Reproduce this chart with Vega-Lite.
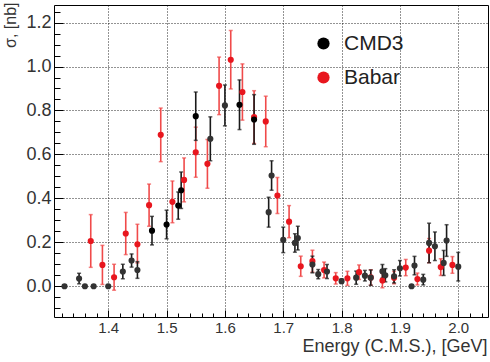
{
  "$schema": "https://vega.github.io/schema/vega-lite/v6.json",
  "width": 434,
  "height": 312,
  "autosize": "none",
  "padding": {"left": 54, "top": 5, "right": 2, "bottom": 45},
  "config": {
    "view": {"stroke": "#000", "strokeWidth": 1},
    "font": "Liberation Sans"
  },
  "data": {"values": [
    {"series": "Babar", "energy": 1.37, "sigma": 0.206, "lo": 0.086, "hi": 0.326},
    {"series": "Babar", "energy": 1.39, "sigma": 0.097, "lo": 0.008, "hi": 0.186},
    {"series": "Babar", "energy": 1.41, "sigma": 0.041, "lo": -0.018, "hi": 0.100},
    {"series": "Babar", "energy": 1.43, "sigma": 0.24, "lo": 0.144, "hi": 0.336},
    {"series": "Babar", "energy": 1.45, "sigma": 0.191, "lo": 0.106, "hi": 0.282},
    {"series": "Babar", "energy": 1.47, "sigma": 0.369, "lo": 0.273, "hi": 0.465},
    {"series": "Babar", "energy": 1.49, "sigma": 0.689, "lo": 0.567, "hi": 0.811},
    {"series": "Babar", "energy": 1.51, "sigma": 0.384, "lo": 0.289, "hi": 0.479},
    {"series": "Babar", "energy": 1.53, "sigma": 0.484, "lo": 0.384, "hi": 0.584},
    {"series": "Babar", "energy": 1.55, "sigma": 0.61, "lo": 0.496, "hi": 0.724},
    {"series": "Babar", "energy": 1.57, "sigma": 0.557, "lo": 0.446, "hi": 0.668},
    {"series": "Babar", "energy": 1.59, "sigma": 0.912, "lo": 0.781, "hi": 1.043},
    {"series": "Babar", "energy": 1.61, "sigma": 1.031, "lo": 0.898, "hi": 1.164},
    {"series": "Babar", "energy": 1.63, "sigma": 0.884, "lo": 0.756, "hi": 1.012},
    {"series": "Babar", "energy": 1.65, "sigma": 0.77, "lo": 0.65, "hi": 0.89},
    {"series": "Babar", "energy": 1.67, "sigma": 0.75, "lo": 0.635, "hi": 0.865},
    {"series": "Babar", "energy": 1.69, "sigma": 0.413, "lo": 0.331, "hi": 0.495},
    {"series": "Babar", "energy": 1.71, "sigma": 0.294, "lo": 0.221, "hi": 0.367},
    {"series": "Babar", "energy": 1.73, "sigma": 0.091, "lo": 0.045, "hi": 0.137},
    {"series": "Babar", "energy": 1.75, "sigma": 0.114, "lo": 0.064, "hi": 0.164},
    {"series": "Babar", "energy": 1.77, "sigma": 0.074, "lo": 0.038, "hi": 0.110},
    {"series": "Babar", "energy": 1.79, "sigma": 0.036, "lo": 0.010, "hi": 0.062},
    {"series": "Babar", "energy": 1.81, "sigma": 0.036, "lo": 0.004, "hi": 0.068},
    {"series": "Babar", "energy": 1.83, "sigma": 0.064, "lo": 0.031, "hi": 0.097},
    {"series": "Babar", "energy": 1.85, "sigma": 0.04, "lo": 0.005, "hi": 0.075},
    {"series": "Babar", "energy": 1.87, "sigma": 0.026, "lo": -0.007, "hi": 0.059},
    {"series": "Babar", "energy": 1.89, "sigma": 0.039, "lo": 0.011, "hi": 0.067},
    {"series": "Babar", "energy": 1.91, "sigma": 0.085, "lo": 0.048, "hi": 0.122},
    {"series": "Babar", "energy": 1.93, "sigma": 0.033, "lo": 0.006, "hi": 0.060},
    {"series": "Babar", "energy": 1.95, "sigma": 0.162, "lo": 0.107, "hi": 0.217},
    {"series": "Babar", "energy": 1.97, "sigma": 0.087, "lo": 0.049, "hi": 0.125},
    {"series": "Babar", "energy": 1.99, "sigma": 0.097, "lo": 0.059, "hi": 0.135},
    {"series": "CMD3 b", "energy": 1.325, "sigma": 0, "lo": 0, "hi": 0},
    {"series": "CMD3 b", "energy": 1.35, "sigma": 0.035, "lo": 0.011, "hi": 0.059},
    {"series": "CMD3 b", "energy": 1.36, "sigma": 0, "lo": 0, "hi": 0},
    {"series": "CMD3 b", "energy": 1.375, "sigma": 0, "lo": 0, "hi": 0},
    {"series": "CMD3 b", "energy": 1.40, "sigma": 0, "lo": 0, "hi": 0},
    {"series": "CMD3 b", "energy": 1.425, "sigma": 0.067, "lo": 0.034, "hi": 0.100},
    {"series": "CMD3 b", "energy": 1.44, "sigma": 0.117, "lo": 0.087, "hi": 0.147},
    {"series": "CMD3 b", "energy": 1.45, "sigma": 0.074, "lo": 0.036, "hi": 0.112},
    {"series": "CMD3", "energy": 1.475, "sigma": 0.253, "lo": 0.188, "hi": 0.318},
    {"series": "CMD3", "energy": 1.50, "sigma": 0.281, "lo": 0.216, "hi": 0.346},
    {"series": "CMD3", "energy": 1.52, "sigma": 0.367, "lo": 0.305, "hi": 0.429},
    {"series": "CMD3", "energy": 1.525, "sigma": 0.437, "lo": 0.354, "hi": 0.520},
    {"series": "CMD3", "energy": 1.55, "sigma": 0.774, "lo": 0.664, "hi": 0.884},
    {"series": "CMD3 b", "energy": 1.575, "sigma": 0.671, "lo": 0.571, "hi": 0.771},
    {"series": "CMD3 b", "energy": 1.60, "sigma": 0.823, "lo": 0.730, "hi": 0.916},
    {"series": "CMD3", "energy": 1.625, "sigma": 0.826, "lo": 0.713, "hi": 0.939},
    {"series": "CMD3", "energy": 1.65, "sigma": 0.759, "lo": 0.646, "hi": 0.872},
    {"series": "CMD3 b", "energy": 1.675, "sigma": 0.337, "lo": 0.269, "hi": 0.405},
    {"series": "CMD3 b", "energy": 1.68, "sigma": 0.504, "lo": 0.437, "hi": 0.571},
    {"series": "CMD3 b", "energy": 1.70, "sigma": 0.211, "lo": 0.153, "hi": 0.269},
    {"series": "CMD3 b", "energy": 1.72, "sigma": 0.197, "lo": 0.155, "hi": 0.239},
    {"series": "CMD3 b", "energy": 1.725, "sigma": 0.219, "lo": 0.165, "hi": 0.273},
    {"series": "CMD3 b", "energy": 1.75, "sigma": 0.099, "lo": 0.061, "hi": 0.137},
    {"series": "CMD3 b", "energy": 1.76, "sigma": 0.055, "lo": 0.034, "hi": 0.076},
    {"series": "CMD3 b", "energy": 1.775, "sigma": 0.067, "lo": 0.035, "hi": 0.099},
    {"series": "CMD3 b", "energy": 1.80, "sigma": 0.023, "lo": 0.013, "hi": 0.033},
    {"series": "CMD3 b", "energy": 1.825, "sigma": 0.039, "lo": 0.009, "hi": 0.069},
    {"series": "CMD3 b", "energy": 1.84, "sigma": 0.048, "lo": 0.024, "hi": 0.072},
    {"series": "CMD3 b", "energy": 1.85, "sigma": 0.039, "lo": 0.004, "hi": 0.074},
    {"series": "CMD3 b", "energy": 1.87, "sigma": 0.068, "lo": 0.037, "hi": 0.099},
    {"series": "CMD3 b", "energy": 1.875, "sigma": 0.05, "lo": 0.02, "hi": 0.08},
    {"series": "CMD3 b", "energy": 1.89, "sigma": 0.045, "lo": 0.015, "hi": 0.075},
    {"series": "CMD3 b", "energy": 1.90, "sigma": 0.082, "lo": 0.047, "hi": 0.117},
    {"series": "CMD3 b", "energy": 1.92, "sigma": 0, "lo": 0, "hi": 0},
    {"series": "CMD3 b", "energy": 1.925, "sigma": 0.094, "lo": 0.052, "hi": 0.136},
    {"series": "CMD3 b", "energy": 1.94, "sigma": 0.030, "lo": 0.006, "hi": 0.054},
    {"series": "CMD3 b", "energy": 1.95, "sigma": 0.197, "lo": 0.107, "hi": 0.287},
    {"series": "CMD3 b", "energy": 1.96, "sigma": 0.182, "lo": 0.117, "hi": 0.247},
    {"series": "CMD3 b", "energy": 1.975, "sigma": 0.106, "lo": 0.049, "hi": 0.163},
    {"series": "CMD3 b", "energy": 1.98, "sigma": 0.208, "lo": 0.136, "hi": 0.280},
    {"series": "CMD3 b", "energy": 2.00, "sigma": 0.089, "lo": 0.024, "hi": 0.154}
  ]},
  "layer": [
    {
      "mark": {"type": "point", "opacity": 0},
      "encoding": {
        "x": {"field": "energy", "type": "quantitative",
          "scale": {"domain": [1.307, 2.051], "nice": false, "zero": false},
          "axis": {"orient": "bottom", "values": [1.4, 1.5, 1.6, 1.7, 1.8, 1.9, 2.0], "format": ".1f",
            "grid": true, "gridColor": "#000", "gridDash": [1, 2], "gridWidth": 1, "gridOpacity": 0.85,
            "domain": false, "ticks": true, "tickSize": -7, "tickColor": "#000", "tickWidth": 1,
            "labelFontSize": 15, "labelColor": "#333", "labelPadding": 10, "labelFlush": false,
            "title": "Energy (C.M.S.), [GeV]", "titleFontSize": 18, "titleFontWeight": "normal", "titleColor": "#333",
            "titleAlign": "right", "titleX": 433, "titleY": 34, "titleBaseline": "alphabetic"}},
        "y": {"field": "sigma", "type": "quantitative",
          "scale": {"domain": [-0.14, 1.28], "nice": false, "zero": false},
          "axis": {"orient": "left", "values": [0, 0.2, 0.4, 0.6, 0.8, 1.0, 1.2], "format": ".1f",
            "grid": true, "gridColor": "#000", "gridDash": [1, 2], "gridWidth": 1, "gridOpacity": 0.85,
            "domain": false, "ticks": true, "tickSize": -9, "tickColor": "#000", "tickWidth": 1,
            "labelFontSize": 18, "labelColor": "#333", "labelPadding": 12, "labelFlush": false,
            "title": "σ, [nb]", "titleFontSize": 16, "titleFontWeight": "normal", "titleColor": "#333",
            "titleAngle": 270, "titleAlign": "right", "titleBaseline": "middle", "titleX": -44, "titleY": -3}}
      }
    },
    {
      "mark": {"type": "point", "opacity": 0},
      "encoding": {
        "x": {"field": "energy", "type": "quantitative",
          "scale": {"domain": [1.307, 2.051], "nice": false, "zero": false},
          "axis": {"orient": "bottom", "values": [1.32, 1.34, 1.36, 1.38, 1.42, 1.44, 1.46, 1.48, 1.52, 1.54, 1.56, 1.58, 1.62, 1.64, 1.66, 1.68, 1.72, 1.74, 1.76, 1.78, 1.82, 1.84, 1.86, 1.88, 1.92, 1.94, 1.96, 1.98, 2.02, 2.04],
            "grid": false, "domain": false, "labels": false, "ticks": true, "tickSize": -4, "tickColor": "#000", "tickWidth": 1, "title": null}},
        "y": {"field": "sigma", "type": "quantitative",
          "scale": {"domain": [-0.14, 1.28], "nice": false, "zero": false},
          "axis": {"orient": "left", "values": [-0.1, -0.05, 0.05, 0.1, 0.15, 0.25, 0.3, 0.35, 0.45, 0.5, 0.55, 0.65, 0.7, 0.75, 0.85, 0.9, 0.95, 1.05, 1.1, 1.15, 1.25],
            "grid": false, "domain": false, "labels": false, "ticks": true, "tickSize": -6, "tickColor": "#000", "tickWidth": 1, "title": null}}
      }
    },
    {
      "transform": [{"filter": "datum.series === 'Babar'"}],
      "encoding": {
        "x": {"field": "energy", "type": "quantitative", "scale": {"domain": [1.307, 2.051], "nice": false, "zero": false}, "axis": null}
      },
      "layer": [
        {"mark": {"type": "rule", "color": "#f04a4a", "strokeWidth": 1.6},
         "encoding": {"y": {"field": "lo", "type": "quantitative", "scale": {"domain": [-0.14, 1.28], "nice": false, "zero": false}, "axis": null}, "y2": {"field": "hi"}}},
        {"mark": {"type": "tick", "orient": "horizontal", "size": 4, "thickness": 1.5, "color": "#f04a4a"},
         "encoding": {"y": {"field": "lo", "type": "quantitative", "scale": {"domain": [-0.14, 1.28], "nice": false, "zero": false}, "axis": null}}},
        {"mark": {"type": "tick", "orient": "horizontal", "size": 4, "thickness": 1.5, "color": "#f04a4a"},
         "encoding": {"y": {"field": "hi", "type": "quantitative", "scale": {"domain": [-0.14, 1.28], "nice": false, "zero": false}, "axis": null}}}
      ]
    },
    {
      "transform": [{"filter": "datum.series !== 'Babar'"}],
      "encoding": {
        "x": {"field": "energy", "type": "quantitative", "scale": {"domain": [1.307, 2.051], "nice": false, "zero": false}, "axis": null}
      },
      "layer": [
        {"mark": {"type": "rule", "color": "#1a1a1a", "strokeWidth": 1.6},
         "encoding": {"y": {"field": "lo", "type": "quantitative", "scale": {"domain": [-0.14, 1.28], "nice": false, "zero": false}, "axis": null}, "y2": {"field": "hi"}}},
        {"mark": {"type": "tick", "orient": "horizontal", "size": 4, "thickness": 1.5, "color": "#1a1a1a"},
         "encoding": {"y": {"field": "lo", "type": "quantitative", "scale": {"domain": [-0.14, 1.28], "nice": false, "zero": false}, "axis": null}}},
        {"mark": {"type": "tick", "orient": "horizontal", "size": 4, "thickness": 1.5, "color": "#1a1a1a"},
         "encoding": {"y": {"field": "hi", "type": "quantitative", "scale": {"domain": [-0.14, 1.28], "nice": false, "zero": false}, "axis": null}}}
      ]
    },
    {
      "mark": {"type": "point", "filled": true, "size": 38, "opacity": 1, "shape": "circle"},
      "encoding": {
        "x": {"field": "energy", "type": "quantitative", "scale": {"domain": [1.307, 2.051], "nice": false, "zero": false}, "axis": null},
        "y": {"field": "sigma", "type": "quantitative", "scale": {"domain": [-0.14, 1.28], "nice": false, "zero": false}, "axis": null},
        "color": {"field": "series", "type": "nominal",
          "scale": {"domain": ["CMD3", "Babar", "CMD3 b"], "range": ["#000000", "#e8161e", "#333333"]},
          "legend": {"values": ["CMD3", "Babar"], "orient": "none", "legendX": 259, "legendY": 28, "title": null,
            "symbolType": "circle", "symbolSize": 150, "symbolStrokeWidth": 0, "symbolOpacity": 1,
            "labelFontSize": 21, "labelColor": "#222", "labelOffset": 10, "rowPadding": 12, "padding": 0}}
      }
    }
  ],
  "resolve": {"axis": {"x": "independent", "y": "independent"}}
}
